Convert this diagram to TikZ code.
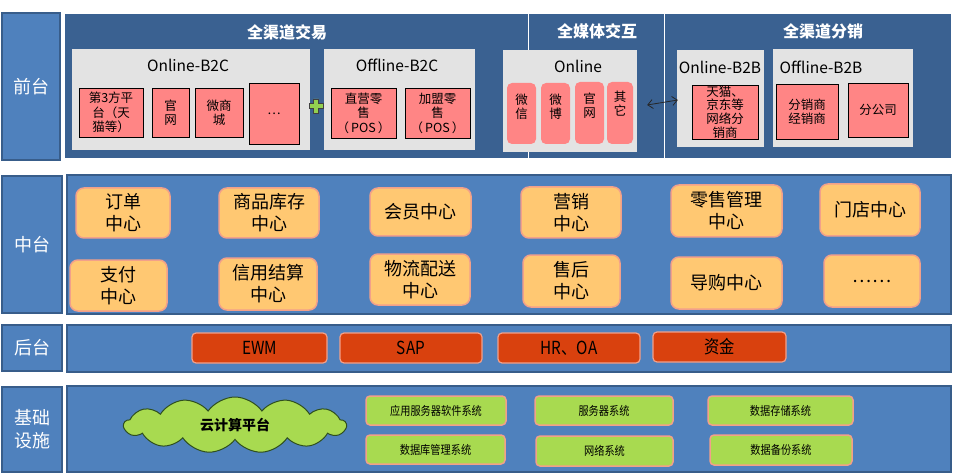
\documentclass[tikz,border=0pt]{standalone}
\usepackage{fontspec}
\setmainfont{Noto Sans CJK SC}
\newfontfamily\narrowfont[FakeStretch=0.85]{Noto Sans CJK SC}
\usetikzlibrary{arrows.meta,shapes.symbols}
\definecolor{paneldark}{HTML}{3A6191}
\definecolor{panelblue}{HTML}{4F81BD}
\definecolor{paneledge}{HTML}{385D8A}
\definecolor{boxgray}{HTML}{E3E3E3}
\definecolor{boxpink}{HTML}{FF8585}
\definecolor{huborange}{HTML}{FFC872}
\definecolor{softedge}{HTML}{F2A08A}
\definecolor{backred}{HTML}{D9410E}
\definecolor{infragreen}{HTML}{A8DA50}
\definecolor{cloudedge}{HTML}{2F4F1F}
\definecolor{plusgreen}{HTML}{92D050}
\tikzset{
  wh/.style 2 args={minimum width=#1pt,minimum height=#2pt},
  layer/.style={rectangle,draw=paneledge,fill=panelblue,line width=2pt,inner sep=0pt,
    text=white,align=center,font=\fontsize{18}{23}\selectfont},
  panel/.style={rectangle,draw=paneledge,fill=panelblue,line width=2pt,inner sep=0pt},
  toppanel/.style={rectangle,draw=white,fill=paneldark,line width=0.8pt,inner sep=0pt},
  title/.style={text=white,font=\fontsize{16}{18}\bfseries\selectfont,inner sep=0pt},
  group/.style={rectangle,fill=boxgray,inner sep=0pt},
  grouptitle/.style={font=\fontsize{15.5}{18}\selectfont,inner sep=0pt},
  sqbox/.style={rectangle,draw=black,fill=boxpink,line width=0.9pt,inner sep=0pt,
    align=center,font=\fontsize{12.5}{14.5}\selectfont},
  tab/.style={rectangle,rounded corners=5pt,fill=boxpink,inner sep=0pt},
  tabtext/.style={align=center,anchor=north,font=\fontsize{12.5}{13.5}\selectfont},
  hub/.style={rectangle,rounded corners=8pt,draw=softedge,fill=huborange,line width=1.5pt,
    inner sep=0pt,align=center,font=\fontsize{18}{22}\selectfont},
  sysbox/.style={rectangle,rounded corners=4pt,draw=softedge,fill=backred,line width=1.2pt,
    inner sep=0pt,font=\narrowfont\fontsize{18}{20}\selectfont},
  infra/.style={rectangle,rounded corners=4pt,draw=softedge,fill=infragreen,line width=1.5pt,
    inner sep=0pt,font=\narrowfont\fontsize{12}{14}\selectfont},
  twoway/.style={{Straight Barb[length=5pt,width=9pt]}-{Straight Barb[length=5pt,width=9pt]},
    line width=0.8pt,draw=black!85}
}

\begin{document}
\begin{tikzpicture}[x=1pt,y=-1pt]
\useasboundingbox (0,0) rectangle (953,473);
% left column
\node[layer,wh={58}{147}] (front) at (31,86.5) {前台};
\node[layer,wh={60}{137}] (middle) at (32,244.5) {中台};
\node[layer,wh={60}{46}] (back) at (32,348) {后台};
\node[layer,wh={60}{85}] (base) at (32,429.5) {基础\\设施};

% front layer
\node[toppanel,wh={464}{145}] (trade) at (296,85.5) {};
\node[toppanel,wh={136}{145}] (media) at (596,85.5) {};
\node[toppanel,wh={287}{145}] (dist) at (807.5,85.5) {};
\node[title] (tradeT) at (287,32) {全渠道交易};
\node[title] (mediaT) at (597,31) {全媒体交互};
\node[title] (distT) at (823,31) {全渠道分销};

\node[group,wh={238}{101}] (onB2C) at (191,99.5) {};
\node[grouptitle] (onB2CT) at (188,65) {Online-B2C};
\node[sqbox,wh={64}{49}] (third) at (111,112.5) {第3方平\\台（天\\猫等）};
\node[sqbox,wh={37}{49}] (site) at (170.5,112.5) {官\\网};
\node[sqbox,wh={48}{49}] (wmall) at (219,112.5) {微商\\城};
\node[sqbox,wh={50}{61}] (etc) at (274,113.5) {…};

\node[group,wh={151}{101}] (offB2C) at (399.5,99.5) {};
\node[grouptitle] (offB2CT) at (397,65) {Offline-B2C};
\node[sqbox,wh={65}{50}] (direct) at (363.5,113) {直营零\\售\\（\,POS\,）};
\node[sqbox,wh={65}{50}] (franch) at (437.5,113) {加盟零\\售\\（\,POS\,）};

\node[group,wh={134}{102}] (online) at (570,101) {};
\node[grouptitle] (onlineT) at (578,66) {Online};
\node[tab,wh={29}{61},label={[tabtext,yshift=-8pt]north:微\\信}] (wechat) at (521.5,113.5) {};
\node[tab,wh={29}{61},label={[tabtext,yshift=-8pt]north:微\\博}] (weibo) at (555.5,113.5) {};
\node[tab,wh={29}{62},label={[tabtext,yshift=-8pt]north:官\\网}] (site2) at (589.5,113) {};
\node[tab,wh={26}{62},label={[tabtext,yshift=-6pt]north:其\\它}] (other) at (620,113) {};

\node[group,wh={87}{97}] (onB2B) at (720.5,98.5) {};
\node[grouptitle] (onB2BT) at (720,67) {Online-B2B};
\node[sqbox,wh={66}{54},font=\fontsize{12.5}{13.6}\selectfont] (eshop) at (725,112) {天猫、\\京东等\\网络分\\销商};

\node[group,wh={140}{98}] (offB2B) at (843,98) {};
\node[grouptitle] (offB2BT) at (821,67) {Offline-B2B};
\node[sqbox,wh={62}{55}] (dealer) at (807,111.5) {分销商\\经销商};
\node[sqbox,wh={60}{54}] (branch) at (878,110) {分公司};

\draw[fill=plusgreen,draw=black!75,line width=0.8pt]
  (313.5,99) -- (318.5,99) -- (318.5,103.5) -- (323,103.5) -- (323,108.5) -- (318.5,108.5)
  -- (318.5,113) -- (313.5,113) -- (313.5,108.5) -- (309,108.5) -- (309,103.5) -- (313.5,103.5) -- cycle;
\draw[twoway] ([xshift=10pt,yshift=-4pt]online.east) -- ([xshift=1pt,yshift=-1.5pt]onB2B.west);

% middle layer
\node[panel,wh={884}{139}] (hubs) at (509,244.5) {};
\node[hub,wh={94}{50}] (order) at (123,213) {订单\\中心};
\node[hub,wh={100}{50}] (goods) at (269,213) {商品库存\\中心};
\node[hub,wh={101}{48}] (member) at (420.5,212) {会员中心};
\node[hub,wh={100}{51}] (market) at (571,212.5) {营销\\中心};
\node[hub,wh={111}{52}] (retail) at (726.5,211) {零售管理\\中心};
\node[hub,wh={100}{52}] (store) at (870,210) {门店中心};
\node[hub,wh={97}{51}] (pay) at (118.5,285.5) {支付\\中心};
\node[hub,wh={98}{52}] (credit) at (268,284) {信用结算\\中心};
\node[hub,wh={100}{51}] (logis) at (420,279.5) {物流配送\\中心};
\node[hub,wh={97}{52}] (after) at (571.5,281) {售后\\中心};
\node[hub,wh={111}{52}] (guide) at (726.5,283) {导购中心};
\node[hub,wh={96}{52}] (more) at (872,281) {……};

% back layer
\node[panel,wh={884}{47}] (systems) at (509,348.5) {};
\node[sysbox,wh={135}{30}] (ewm) at (259.5,348) {EWM};
\node[sysbox,wh={142}{30}] (sap) at (411,348) {SAP};
\node[sysbox,wh={142}{30}] (hroa) at (569,348) {HR、OA};
\node[sysbox,wh={133}{30}] (fund) at (719.5,347) {资金};

% infrastructure
\node[panel,wh={884}{86}] (infraP) at (509,429) {};
\node[cloud,cloud puffs=13,cloud puff arc=110,cloud ignores aspect,draw=cloudedge,
  fill=infragreen,line width=1pt,wh={222}{56},inner sep=0pt,
  font=\fontsize{14}{16}\bfseries\selectfont] (cloud) at (235,425) {云计算平台};
\node[infra,wh={140}{29}] (appsrv) at (436,410.5) {应用服务器软件系统};
\node[infra,wh={138}{29}] (server) at (604,410.5) {服务器系统};
\node[infra,wh={145}{29}] (storage) at (780.5,410.5) {数据存储系统};
\node[infra,wh={139}{29}] (dbms) at (435.5,449.5) {数据库管理系统};
\node[infra,wh={137}{30}] (network) at (604.5,451) {网络系统};
\node[infra,wh={142}{30}] (backup) at (781,450) {数据备份系统};
\end{tikzpicture}
\end{document}
